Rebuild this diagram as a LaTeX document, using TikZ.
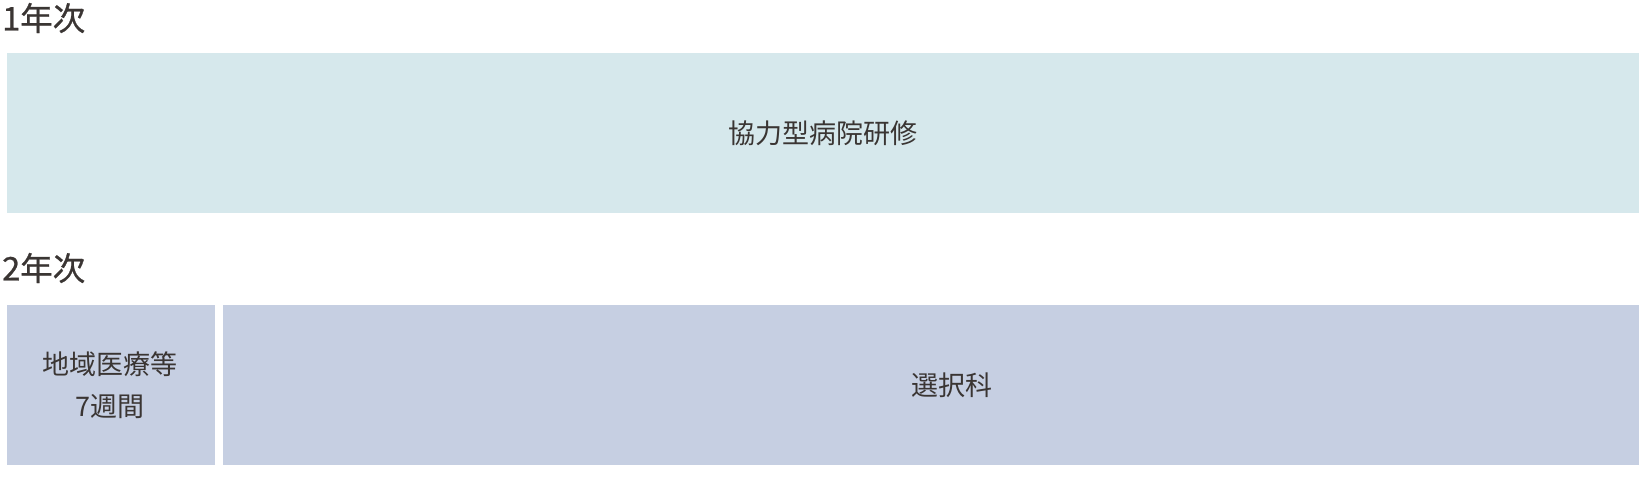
\documentclass[tikz,border=0pt]{standalone}
\usepackage{fontspec}
\setmainfont{Noto Sans CJK JP}
\newfontfamily\headfont[FakeBold=0.8]{Noto Sans CJK JP}
\begin{document}
\begin{tikzpicture}[x=1pt,y=-1pt,
  txt/.style={text=textgray,font=\fontsize{27}{42}\selectfont,inner sep=0pt,align=center},
  head/.style={text=textgray,font=\headfont\fontsize{32.5}{36}\selectfont,inner sep=0pt,anchor=west},
  box1/.style={fill=boxblue,draw=none},
  box2/.style={fill=boxlav,draw=none}]
\definecolor{textgray}{HTML}{3A3533}
\definecolor{boxblue}{HTML}{D6E8EC}
\definecolor{boxlav}{HTML}{C6CFE2}
\useasboundingbox (0,0) rectangle (1643,489);
\node[head] (h1) at (2,18) {1年次};
\node[box1,minimum width=1632pt,minimum height=160pt,anchor=north west] (b1) at (7,53) {};
\node[txt] (t1) at (823,133) {協力型病院研修};
\node[head] (h2) at (2,268) {2年次};
\node[box2,minimum width=208pt,minimum height=160pt,anchor=north west] (b2) at (7,305) {};
\node[box2,minimum width=1416pt,minimum height=160pt,anchor=north west] (b3) at (223,305) {};
\node[txt] (t2) at (110,385) {地域医療等\\7週間};
\node[txt] (t3) at (952,385) {選択科};
\end{tikzpicture}
\end{document}
